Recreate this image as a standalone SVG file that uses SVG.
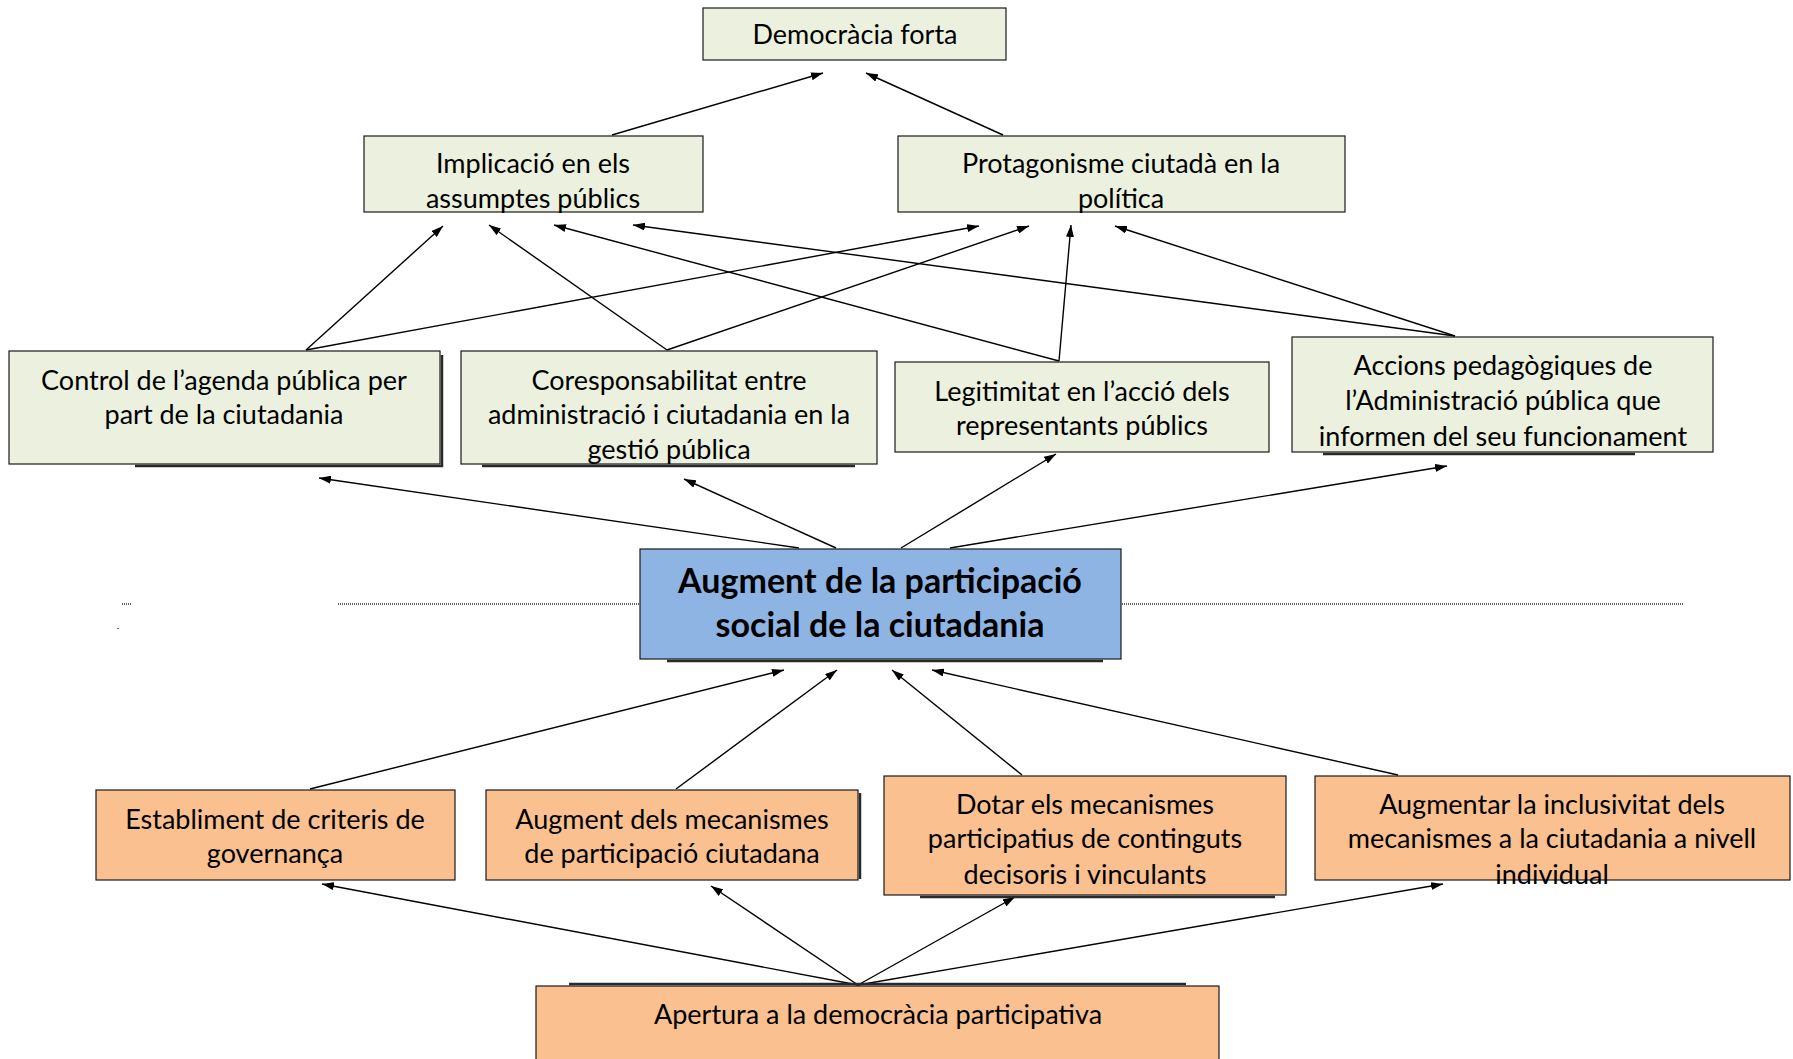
<svg xmlns="http://www.w3.org/2000/svg" width="1793" height="1059" viewBox="0 0 1793 1059">
<defs>
<style>
.g{fill:#ebf1de;stroke:#1a1a1a;stroke-width:1.2}
.o{fill:#fac090;stroke:#1a1a1a;stroke-width:1.2}
.b{fill:#8eb4e3;stroke:#1a1a1a;stroke-width:1.2}
.sh{stroke:#2a2a2a;stroke-width:2.5;fill:none}
.t{font-family:Lato,"Open Sans",sans-serif;font-size:27px;fill:#000;text-anchor:middle}
.tb{font-family:Lato,"Open Sans",sans-serif;font-size:34px;font-weight:bold;fill:#000;text-anchor:middle}
.c{stroke:#000;stroke-width:1.4;fill:none;marker-end:url(#ah)}
.dot{stroke:#333;stroke-width:1.6;stroke-dasharray:1 1;fill:none}
</style>
<marker id="ah" viewBox="0 0 12 8" refX="12" refY="4" markerWidth="12" markerHeight="8" markerUnits="userSpaceOnUse" orient="auto">
<path d="M0,0 L12,4 L0,8 z" fill="#000"/>
</marker>
</defs>
<rect width="1793" height="1059" fill="#fff"/>
<g id="divider">
<line class="dot" x1="338" y1="604" x2="1683" y2="604"/>
<line class="dot" x1="122" y1="604" x2="132" y2="604"/>
<line class="dot" x1="118" y1="628" x2="118" y2="630"/>
</g>
<g id="connectors">
<line class="c" x1="612" y1="135" x2="823" y2="73"/>
<line class="c" x1="1003" y1="135" x2="866" y2="73"/>
<line class="c" x1="306" y1="350" x2="443" y2="226"/>
<line class="c" x1="306" y1="350" x2="979" y2="226"/>
<line class="c" x1="667" y1="350" x2="489" y2="225"/>
<line class="c" x1="667" y1="350" x2="1029" y2="226"/>
<line class="c" x1="1059" y1="361" x2="554" y2="225"/>
<line class="c" x1="1059" y1="361" x2="1071" y2="225"/>
<line class="c" x1="1455" y1="336" x2="633" y2="225"/>
<line class="c" x1="1455" y1="336" x2="1115" y2="226"/>
<line class="c" x1="799" y1="548" x2="319" y2="478"/>
<line class="c" x1="836" y1="548" x2="684" y2="479"/>
<line class="c" x1="901" y1="548" x2="1056" y2="454"/>
<line class="c" x1="950" y1="548" x2="1447" y2="466"/>
<line class="c" x1="310" y1="789" x2="784" y2="670"/>
<line class="c" x1="676" y1="789" x2="837" y2="670"/>
<line class="c" x1="1022" y1="775" x2="892" y2="670"/>
<line class="c" x1="1398" y1="775" x2="932" y2="670"/>
<line class="c" x1="858" y1="985" x2="322" y2="884"/>
<line class="c" x1="858" y1="985" x2="711" y2="886"/>
<line class="c" x1="858" y1="985" x2="1015" y2="897"/>
<line class="c" x1="858" y1="985" x2="1443" y2="884"/>
</g>
<g id="n-democracia">
<rect class="g" x="703" y="8" width="303" height="52"/>
<text class="t" x="855" y="44">Democràcia forta</text>
</g>
<g id="n-implicacio">
<rect class="g" x="364" y="136" width="339" height="76"/>
<text class="t" x="533" y="173">Implicació en els</text>
<text class="t" x="533" y="208">assumptes públics</text>
</g>
<g id="n-protagonisme">
<rect class="g" x="898" y="136" width="447" height="76"/>
<text class="t" x="1121" y="173">Protagonisme ciutadà en la</text>
<text class="t" x="1121" y="208">política</text>
</g>
<g id="n-control">
<polyline class="sh" points="135,466 442,466 442,355"/>
<rect class="g" x="9" y="351" width="431" height="113"/>
<text class="t" x="224" y="390">Control de l’agenda pública per</text>
<text class="t" x="224" y="424">part de la ciutadania</text>
</g>
<g id="n-coresponsabilitat">
<polyline class="sh" points="482,466 855,466"/>
<rect class="g" x="461" y="351" width="416" height="113"/>
<text class="t" x="669" y="390">Coresponsabilitat entre</text>
<text class="t" x="669" y="424">administració i ciutadania en la</text>
<text class="t" x="669" y="459">gestió pública</text>
</g>
<g id="n-legitimitat">
<rect class="g" x="895" y="362" width="374" height="90"/>
<text class="t" x="1082" y="401">Legitimitat en l’acció dels</text>
<text class="t" x="1082" y="435">representants públics</text>
</g>
<g id="n-accions">
<polyline class="sh" points="1323,454 1635,454"/>
<rect class="g" x="1292" y="337" width="421" height="115"/>
<text class="t" x="1503" y="375">Accions pedagògiques de</text>
<text class="t" x="1503" y="410">l’Administració pública que</text>
<text class="t" x="1503" y="446">informen del seu funcionament</text>
</g>
<g id="n-augment-participacio">
<polyline class="sh" points="667,661 1103,661"/>
<rect class="b" x="640" y="549" width="481" height="110"/>
<text class="tb" x="880" y="593">Augment de la participació</text>
<text class="tb" x="880" y="637">social de la ciutadania</text>
</g>
<g id="n-establiment">
<rect class="o" x="96" y="790" width="359" height="90"/>
<text class="t" x="275" y="829">Establiment de criteris de</text>
<text class="t" x="275" y="863">governança</text>
</g>
<g id="n-augment-mecanismes">
<polyline class="sh" points="860,793 860,879"/>
<rect class="o" x="486" y="790" width="372" height="90"/>
<text class="t" x="672" y="829">Augment dels mecanismes</text>
<text class="t" x="672" y="863">de participació ciutadana</text>
</g>
<g id="n-dotar">
<polyline class="sh" points="920,897 1275,897"/>
<rect class="o" x="884" y="776" width="402" height="119"/>
<text class="t" x="1085" y="814">Dotar els mecanismes</text>
<text class="t" x="1085" y="848">participatius de continguts</text>
<text class="t" x="1085" y="884">decisoris i vinculants</text>
</g>
<g id="n-augmentar-inclusivitat">
<rect class="o" x="1315" y="776" width="475" height="104"/>
<text class="t" x="1552" y="814">Augmentar la inclusivitat dels</text>
<text class="t" x="1552" y="848">mecanismes a la ciutadania a nivell</text>
<text class="t" x="1552" y="884">individual</text>
</g>
<g id="n-apertura">
<polyline class="sh" points="569,984 1186,984"/>
<rect class="o" x="536" y="986" width="683" height="80"/>
<text class="t" x="878" y="1024">Apertura a la democràcia participativa</text>
</g>
</svg>
